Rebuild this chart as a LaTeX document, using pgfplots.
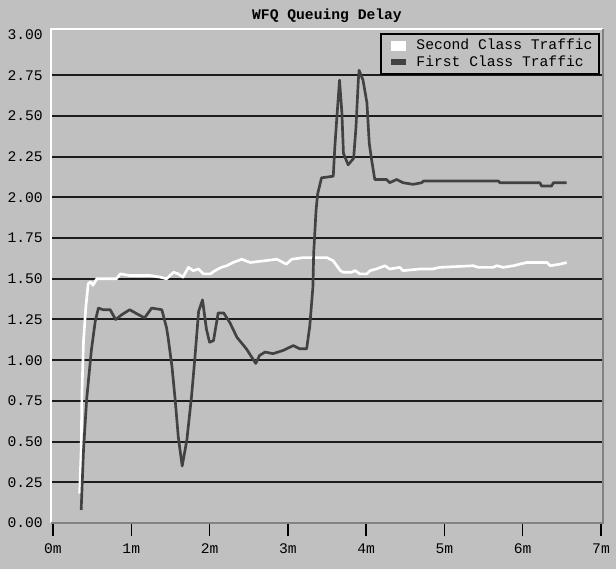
\documentclass[border=0pt]{standalone}
\usepackage{pgfplots}
\pgfplotsset{compat=1.18}
\usepackage{fontspec}
\setmainfont{Liberation Mono}
\definecolor{bg}{RGB}{192,192,192}
\definecolor{darkline}{RGB}{66,66,66}
\definecolor{gridc}{RGB}{28,28,28}
\definecolor{edge}{RGB}{130,130,130}

\pgfplotstableread{
t v
0.34 0.18
0.36 0.45
0.37 0.80
0.39 1.12
0.42 1.33
0.45 1.47
0.48 1.48
0.51 1.46
0.56 1.50
0.60 1.50
0.81 1.50
0.86 1.53
0.98 1.52
1.24 1.52
1.37 1.51
1.45 1.50
1.54 1.54
1.60 1.53
1.66 1.51
1.73 1.57
1.79 1.55
1.86 1.56
1.92 1.53
2.01 1.53
2.07 1.55
2.15 1.57
2.22 1.58
2.30 1.60
2.41 1.62
2.52 1.60
2.69 1.61
2.86 1.62
2.90 1.61
2.98 1.59
3.05 1.62
3.20 1.63
3.50 1.63
3.58 1.61
3.67 1.55
3.71 1.54
3.81 1.54
3.86 1.55
3.92 1.53
4.01 1.53
4.05 1.55
4.13 1.56
4.24 1.58
4.30 1.56
4.43 1.57
4.47 1.55
4.69 1.56
4.85 1.56
4.94 1.57
5.37 1.58
5.43 1.57
5.62 1.57
5.67 1.58
5.75 1.57
5.88 1.58
6.05 1.60
6.31 1.60
6.35 1.58
6.48 1.59
6.56 1.60
}\secondclass

\pgfplotstableread{
t v
0.36 0.08
0.39 0.45
0.43 0.76
0.49 1.06
0.54 1.24
0.58 1.32
0.64 1.31
0.73 1.31
0.80 1.25
0.88 1.28
0.98 1.31
1.09 1.28
1.17 1.26
1.26 1.32
1.39 1.31
1.45 1.20
1.47 1.14
1.52 0.96
1.56 0.76
1.60 0.53
1.65 0.35
1.71 0.51
1.77 0.78
1.81 1.00
1.86 1.30
1.91 1.37
1.96 1.19
2.00 1.11
2.05 1.12
2.11 1.29
2.18 1.29
2.26 1.23
2.35 1.14
2.47 1.07
2.59 0.98
2.64 1.03
2.71 1.05
2.81 1.04
2.94 1.06
3.07 1.09
3.15 1.07
3.24 1.07
3.28 1.21
3.32 1.45
3.33 1.66
3.36 1.92
3.38 2.02
3.43 2.12
3.58 2.13
3.60 2.31
3.63 2.52
3.66 2.72
3.69 2.52
3.71 2.27
3.77 2.20
3.84 2.24
3.87 2.43
3.90 2.72
3.91 2.78
3.96 2.72
4.01 2.58
4.04 2.33
4.07 2.23
4.11 2.11
4.26 2.11
4.30 2.09
4.39 2.11
4.47 2.09
4.60 2.08
4.71 2.09
4.73 2.10
5.69 2.10
5.71 2.09
6.22 2.09
6.24 2.07
6.37 2.07
6.39 2.09
6.56 2.09
}\firstclass

\begin{document}
\begin{tikzpicture}
\fill[bg] (-38.25pt,-34.5pt) rectangle (423.75pt,392.25pt);
\begin{axis}[
  scale only axis,
  width=414pt, height=370.5pt,
  xmin=-0.0255, xmax=7.0255, ymin=0, ymax=3.034,
  axis line style={draw=none},
  xtick={0,1,2,3,4,5,6,7},
  xticklabels={0m,1m,2m,3m,4m,5m,6m,7m},
  xtick pos=bottom, xtick align=outside,
  major tick length=10pt,
  xtick style={black, line width=1.1pt},
  xticklabel style={yshift=-2pt},
  ytick={0,0.25,0.5,0.75,1,1.25,1.5,1.75,2,2.25,2.5,2.75,3},
  ytick style={draw=none},
  /pgf/number format/assume math mode=true,
  tick label style={font=\fontsize{11}{12}\selectfont, text=black},
  yticklabel style={/pgf/number format/fixed, /pgf/number format/fixed zerofill,
    /pgf/number format/precision=2, inner sep=0pt, xshift=-6pt},
  extra y ticks={0.25,0.5,0.75,1,1.25,1.5,1.75,2,2.25,2.5,2.75},
  extra y tick labels={},
  extra y tick style={grid=major, major grid style={gridc, line width=1.5pt}, tick style={draw=none}},
  title={WFQ Queuing Delay},
  title style={font=\bfseries\fontsize{11}{11}\selectfont, at={(0.5,1)}, anchor=base, yshift=1pt},
  legend style={at={(1,1)}, anchor=north east, xshift=-2.25pt, yshift=-3pt,
    fill=bg, draw=black, line width=1.3pt, font=\fontsize{11}{11}\selectfont,
    inner xsep=3pt, inner ysep=2pt, row sep=-1pt},
  legend cell align=left,
  after end axis/.code={
    \draw[white, line width=1.5pt] (rel axis cs:0,0) -- (rel axis cs:0,1) -- (rel axis cs:1,1);
    \draw[edge, line width=1.5pt] (rel axis cs:1,1) -- (rel axis cs:1,0) -- (rel axis cs:0,0);
  },
]
\addplot[white, line width=2pt, line join=round,
  legend image code/.code={\path[draw=none,fill=none] (0pt,-3.75pt) rectangle (21.5pt,3.75pt); \fill[white,draw=none] (4.5pt,-3.75pt) rectangle (15.75pt,3.75pt);}]
  table[x=t, y=v] {\secondclass};
\addlegendentry{Second Class Traffic}
\addplot[darkline, line width=2pt, line join=round,
  legend image code/.code={\path[draw=none,fill=none] (0pt,-3.75pt) rectangle (21.5pt,3.75pt); \fill[darkline,draw=none] (4.5pt,-2.25pt) rectangle (15.75pt,2.25pt);}]
  table[x=t, y=v] {\firstclass};
\addlegendentry{First Class Traffic}
\end{axis}
\end{tikzpicture}
\end{document}
